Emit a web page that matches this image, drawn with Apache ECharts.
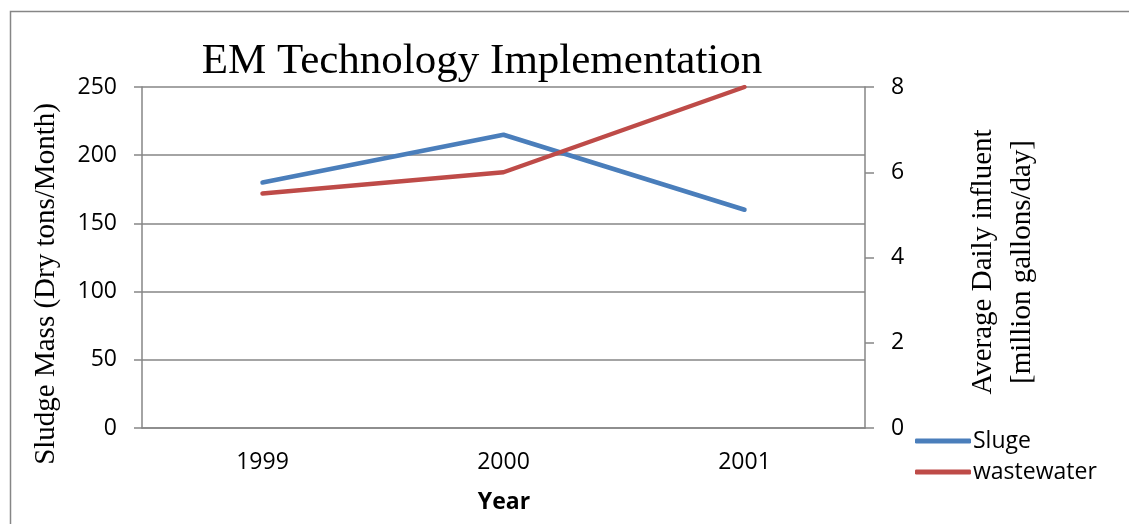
<!DOCTYPE html>
<html>
<head>
<meta charset="utf-8">
<script src="https://cdn.jsdelivr.net/npm/echarts@6/dist/echarts.min.js"></script>
<style>
html,body{margin:0;padding:0;background:#fff;}
#chart{width:1129px;height:524px;}
</style>
</head>
<body>
<div id="chart"></div>
<script>
const categories = ['1999', '2000', '2001'];
const sludge = [180, 215, 160];
const wastewater = [5.5, 6, 8];
const seriesNames = ['Sluge', 'wastewater'];
const titleText = 'EM Technology Implementation';
const leftAxisTitle = 'Sludge Mass (Dry tons/Month)';
const rightAxisTitle = 'Average Daily influent\n[million gallons/day]';
const xAxisTitle = 'Year';

const gray = '#868686';
const sans = '"Open Sans", "Noto Sans", sans-serif';
const serif = '"Liberation Serif", "DejaVu Serif", serif';

const chart = echarts.init(document.getElementById('chart'), null, {renderer: 'canvas'});
chart.setOption({
  animation: false,
  backgroundColor: '#fff',
  title: {
    text: titleText,
    left: 477, top: 35, textAlign: 'center',
    textStyle: {fontFamily: serif, fontSize: 43, fontWeight: 'normal', color: '#000'}
  },
  grid: {left: 142, right: 264, top: 87, bottom: 96},
  legend: {
    orient: 'vertical', left: 910, top: 424,
    itemWidth: 56, itemHeight: 5, itemGap: 7,
    icon: 'roundRect',
    textStyle: {fontFamily: sans, fontSize: 23, color: '#000', padding: [0,0,0,-3], lineHeight: 24},
    data: seriesNames
  },
  xAxis: {
    type: 'category', data: categories, boundaryGap: true,
    axisLine: {show: true, lineStyle: {color: gray, width: 1.5}},
    axisTick: {show: false},
    axisLabel: {fontFamily: sans, fontSize: 23, color: '#000', margin: 23}
  },
  yAxis: [
    {
      type: 'value', min: 0, max: 250, interval: 50, position: 'left',
      axisLine: {show: true, lineStyle: {color: gray, width: 1.5}},
      axisTick: {show: true, length: 8, lineStyle: {color: gray, width: 1.5}},
      splitLine: {show: true, lineStyle: {color: gray, width: 1.5}},
      axisLabel: {fontFamily: sans, fontSize: 23, color: '#000', margin: 25}
    },
    {
      type: 'value', min: 0, max: 8, interval: 2, position: 'right',
      axisLine: {show: true, lineStyle: {color: gray, width: 1.5}},
      axisTick: {show: true, length: 9, lineStyle: {color: gray, width: 1.5}},
      splitLine: {show: false},
      axisLabel: {fontFamily: sans, fontSize: 23, color: '#000', margin: 26}
    }
  ],
  series: [
    {name: seriesNames[0], type: 'line', data: sludge, yAxisIndex: 0,
     symbol: 'none', color: '#4A7EBB', lineStyle: {width: 4.5, cap: 'round', join: 'round'}},
    {name: seriesNames[1], type: 'line', data: wastewater, yAxisIndex: 1,
     symbol: 'none', color: '#BE4B48', lineStyle: {width: 4.5, cap: 'round', join: 'round'}}
  ],
  graphic: [
    {type: 'rect', left: 8, top: 9, silent: true, z: -1,
     shape: {width: 1140, height: 540},
     style: {fill: 'none', stroke: gray, lineWidth: 1.5}},
    {type: 'text', x: 46, y: 284, rotation: Math.PI / 2, silent: true,
     style: {text: leftAxisTitle, fontFamily: serif, fontSize: 29, fill: '#000',
             align: 'center', verticalAlign: 'middle'}},
    {type: 'text', x: 1003, y: 262, rotation: Math.PI / 2, silent: true,
     style: {text: rightAxisTitle, fontFamily: serif, fontSize: 29, lineHeight: 39, fill: '#000',
             align: 'center', verticalAlign: 'middle'}},
    {type: 'text', x: 504, y: 502, silent: true,
     style: {text: xAxisTitle, fontFamily: sans, fontSize: 23, fontWeight: 'bold', fill: '#000',
             align: 'center', verticalAlign: 'middle'}}
  ]
});
</script>
</body>
</html>
